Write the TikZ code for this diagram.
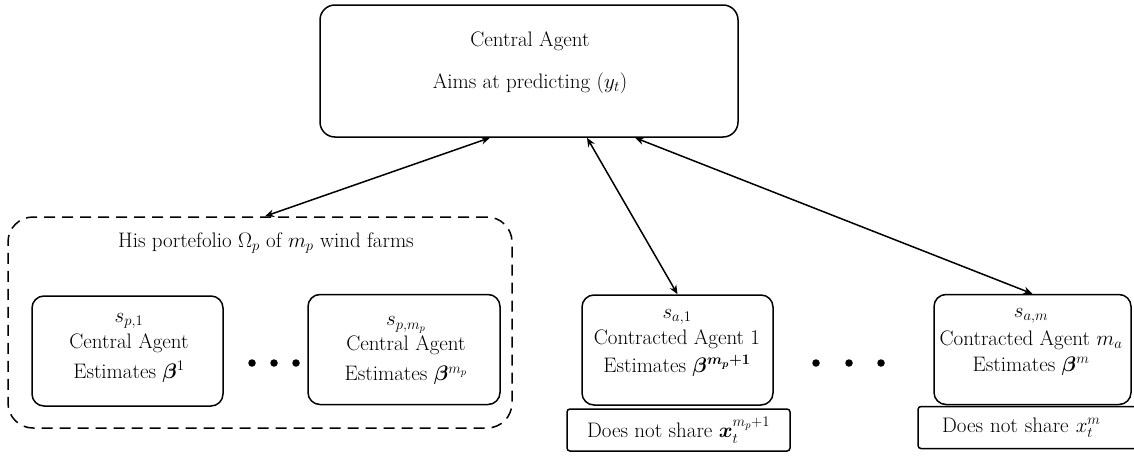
\RequirePackage{fix-cm}
\documentclass[tikz,border=0pt]{standalone}
\usepackage{amsmath,bm}
\usetikzlibrary{arrows.meta}
\begin{document}
\begin{tikzpicture}[x=1pt,y=-1pt,
  every node/.style={font=\fontsize{21}{25}\selectfont},
  bigbox/.style={draw, line width=1.5pt, rounded corners=15pt, inner sep=0pt},
  agentbox/.style={draw, line width=1.5pt, rounded corners=12pt, minimum height=110pt, inner sep=0pt},
  notebox/.style={draw, line width=1.5pt, rounded corners=3pt, minimum height=42pt, inner sep=0pt},
  groupbox/.style={draw, line width=1.5pt, dash pattern=on 11pt off 7pt, rounded corners=25pt, inner sep=0pt},
  txt/.style={align=center, inner sep=0pt},
  dotnode/.style={circle, fill=black, minimum size=7.5pt, inner sep=0pt},
  link/.style={line width=1.5pt, {Stealth[length=9pt,width=7.5pt]}-{Stealth[length=9pt,width=7.5pt]}}]
\clip (0,0) rectangle (1134,455);

% central agent
\node[bigbox, minimum width=418pt, minimum height=132pt] (central) at (529,71) {};
\node[txt] (centraltxt) at (530,63) {Central Agent\\[17pt]Aims at predicting $(y_t)$};

% portfolio
\node[groupbox, minimum width=504pt, minimum height=211pt] (portfolio) at (260,322.5) {};
\node[txt] (portfoliotxt) at (266,243) {His portefolio $\Omega_p$ of $m_p$ wind farms};

\node[agentbox, minimum width=191pt] (sp1) at (127.5,351) {};
\node[txt] (sp1txt) at (129,348) {$s_{p,1}$\\[1pt]Central Agent\\[5pt]Estimates $\bm{\beta}^1$};

\node[agentbox, minimum width=192pt] (spm) at (404,349.5) {};
\node[txt] (spmtxt) at (406,351) {$s_{p,m_p}$\\Central Agent\\[5pt]Estimates $\bm{\beta}^{m_p}$};

\node[dotnode] (d1) at (252,363) {};
\node[dotnode] (d2) at (274,363) {};
\node[dotnode] (d3) at (296,363) {};

% contracted agent 1
\node[agentbox, minimum width=191pt] (sa1) at (677.5,350) {};
\node[txt] (sa1txt) at (677,343) {$s_{a,1}$\\[1pt]Contracted Agent 1\\[3pt]Estimates $\bm{\beta^{m_p+1}}$};
\node[notebox, minimum width=223pt] (ns1) at (678.5,430) {Does not share $\bm{x}_t^{m_p+1}$};

\node[dotnode] (d4) at (816,363) {};
\node[dotnode] (d5) at (849,363) {};
\node[dotnode] (d6) at (881,363) {};

% contracted agent m_a
\node[agentbox, minimum width=197pt] (sam) at (1032.5,349.5) {};
\node[txt] (samtxt) at (1031,342) {$s_{a,m}$\\[3pt]Contracted Agent $m_a$\\[1pt]Estimates $\bm{\beta}^m$};
\node[notebox, minimum width=250pt, text width=202pt, align=left, inner xsep=24pt] (nsm) at (1043,427.5) {Does not share $x_t^m$};

% links
\draw[link] ([xshift=-39pt]central.south) -- ([xshift=5pt]portfolio.north);
\draw[link] ([xshift=58pt]central.south) -- (sa1.north);
\draw[link] ([xshift=106pt]central.south) -- (sam.north);
\end{tikzpicture}
\end{document}
